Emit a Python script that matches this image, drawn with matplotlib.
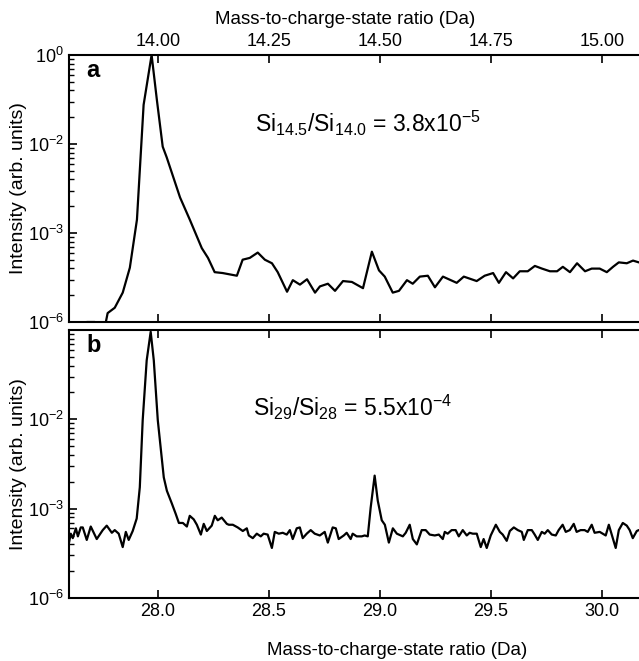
import matplotlib.pyplot as plt
import matplotlib.ticker as mticker
import numpy as np

plt.rcParams['font.family'] = ['Liberation Sans', 'DejaVu Sans']
plt.rcParams['mathtext.fontset'] = 'custom'
plt.rcParams['mathtext.rm'] = 'Liberation Sans'
plt.rcParams['mathtext.it'] = 'Liberation Sans:italic'
plt.rcParams['mathtext.bf'] = 'Liberation Sans:bold'

# panel a: mass-to-charge (Da) and log10 of intensity (as drawn on the axis)
mass_a = [13.820, 13.840, 13.858, 13.869, 13.883, 13.887, 13.903, 13.921, 13.937, 13.953,
          13.968, 13.986, 13.998, 14.011, 14.020, 14.032, 14.050, 14.072, 14.099, 14.113,
          14.128, 14.146, 14.178, 14.191, 14.207, 14.225, 14.241, 14.257, 14.270, 14.291,
          14.304, 14.320, 14.336, 14.354, 14.365, 14.383, 14.399, 14.417, 14.437, 14.462,
          14.482, 14.498, 14.511, 14.529, 14.543, 14.561, 14.574, 14.590, 14.608, 14.624,
          14.642, 14.673, 14.689, 14.718, 14.736, 14.755, 14.768, 14.784, 14.800, 14.815,
          14.833, 14.849, 14.865, 14.883, 14.899, 14.912, 14.928, 14.944, 14.962, 14.977,
          14.995, 15.011, 15.025, 15.038, 15.056, 15.070, 15.083, 15.097]
logi_a = [-3.10, -3.00, -3.00, -3.10, -3.00, -2.90, -2.84, -2.67, -2.39, -1.85,
          -0.56, 0.00, -0.51, -1.03, -1.15, -1.33, -1.60, -1.85, -2.17, -2.28,
          -2.44, -2.45, -2.48, -2.30, -2.28, -2.22, -2.30, -2.34, -2.44, -2.66,
          -2.53, -2.58, -2.52, -2.67, -2.60, -2.57, -2.65, -2.54, -2.55, -2.62,
          -2.21, -2.42, -2.49, -2.67, -2.65, -2.53, -2.57, -2.49, -2.48, -2.61,
          -2.49, -2.56, -2.49, -2.54, -2.48, -2.45, -2.56, -2.44, -2.51, -2.43,
          -2.43, -2.37, -2.40, -2.43, -2.43, -2.38, -2.44, -2.34, -2.43, -2.40,
          -2.40, -2.44, -2.38, -2.33, -2.34, -2.31, -2.33, -2.32]

# panel b
mass_b = [27.600, 27.608, 27.617, 27.631, 27.640, 27.653, 27.662, 27.680, 27.698, 27.725,
          27.752, 27.770, 27.793, 27.806, 27.824, 27.842, 27.856, 27.869, 27.887, 27.905,
          27.919, 27.932, 27.950, 27.968, 27.982, 28.000, 28.027, 28.041, 28.063, 28.081,
          28.095, 28.113, 28.131, 28.144, 28.162, 28.176, 28.194, 28.207, 28.221, 28.243,
          28.257, 28.270, 28.288, 28.311, 28.320, 28.338, 28.360, 28.383, 28.401, 28.410,
          28.428, 28.446, 28.464, 28.477, 28.495, 28.514, 28.527, 28.545, 28.563, 28.581,
          28.595, 28.608, 28.626, 28.640, 28.653, 28.671, 28.689, 28.707, 28.730, 28.752,
          28.766, 28.788, 28.802, 28.815, 28.838, 28.851, 28.869, 28.878, 28.896, 28.919,
          28.932, 28.946, 28.959, 28.977, 28.991, 29.009, 29.023, 29.041, 29.059, 29.077,
          29.104, 29.117, 29.135, 29.149, 29.167, 29.189, 29.207, 29.225, 29.248, 29.266,
          29.284, 29.293, 29.306, 29.324, 29.342, 29.356, 29.374, 29.392, 29.405, 29.419,
          29.437, 29.455, 29.468, 29.482, 29.500, 29.523, 29.541, 29.554, 29.572, 29.586,
          29.604, 29.622, 29.640, 29.649, 29.667, 29.685, 29.698, 29.712, 29.730, 29.743,
          29.757, 29.775, 29.793, 29.806, 29.824, 29.838, 29.856, 29.874, 29.887, 29.905,
          29.923, 29.937, 29.955, 29.968, 29.991, 30.005, 30.018, 30.032, 30.050, 30.063,
          30.077, 30.095, 30.113, 30.126, 30.140, 30.158, 30.167, 30.195]
logi_b = [-2.38, -2.28, -2.33, -2.22, -2.31, -2.21, -2.21, -2.35, -2.20, -2.34,
          -2.24, -2.19, -2.27, -2.24, -2.28, -2.43, -2.26, -2.35, -2.25, -2.11,
          -1.76, -1.01, -0.34, -0.02, -0.34, -1.01, -1.65, -1.80, -1.94, -2.06,
          -2.16, -2.16, -2.20, -2.08, -2.12, -2.18, -2.29, -2.17, -2.25, -2.19,
          -2.08, -2.13, -2.10, -2.17, -2.18, -2.18, -2.21, -2.25, -2.22, -2.30,
          -2.33, -2.28, -2.31, -2.28, -2.29, -2.44, -2.26, -2.28, -2.27, -2.29,
          -2.24, -2.34, -2.22, -2.21, -2.33, -2.28, -2.24, -2.28, -2.30, -2.26,
          -2.38, -2.21, -2.22, -2.34, -2.30, -2.27, -2.34, -2.28, -2.31, -2.31,
          -2.30, -2.31, -1.99, -1.63, -1.91, -2.13, -2.18, -2.38, -2.22, -2.28,
          -2.31, -2.27, -2.18, -2.34, -2.40, -2.24, -2.24, -2.29, -2.30, -2.29,
          -2.34, -2.26, -2.28, -2.24, -2.24, -2.31, -2.24, -2.30, -2.27, -2.28,
          -2.28, -2.43, -2.34, -2.44, -2.30, -2.18, -2.26, -2.29, -2.36, -2.25,
          -2.21, -2.24, -2.26, -2.35, -2.24, -2.24, -2.29, -2.35, -2.26, -2.28,
          -2.24, -2.29, -2.30, -2.24, -2.18, -2.26, -2.24, -2.17, -2.26, -2.24,
          -2.24, -2.26, -2.18, -2.27, -2.26, -2.28, -2.30, -2.18, -2.33, -2.44,
          -2.24, -2.16, -2.19, -2.24, -2.33, -2.25, -2.24, -2.25]

xticks_a = [14.00, 14.25, 14.50, 14.75, 15.00]
xticks_b = [28.0, 28.5, 29.0, 29.5, 30.0]
yticks = [1, 1e-1, 1e-2, 1e-3]
ylabels_a = ['$10^{0}$', '$10^{-2}$', '$10^{-3}$', '$10^{-6}$']
ylabels_b = ['', '$10^{-2}$', '$10^{-3}$', '$10^{-6}$']

W, H = 639, 661
fig = plt.figure(figsize=(W / 100, H / 100), dpi=100)
left, right = 69, 645
ax_a = fig.add_axes([left / W, 1 - 322 / H, (right - left) / W, 267 / H])
ax_b = fig.add_axes([left / W, 1 - 598 / H, (right - left) / W, 268 / H])

for ax, m, li, xt, yl in [(ax_a, mass_a, logi_a, xticks_a, ylabels_a),
                          (ax_b, mass_b, logi_b, xticks_b, ylabels_b)]:
    ax.plot(m, 10 ** np.array(li), color='black', lw=1.6)
    ax.set_yscale('log')
    ax.set_ylim(1e-3, 1)
    ax.set_xlim(m[0] if ax is ax_b else 13.80, m[-1])
    ax.set_xticks(xt)
    ax.set_yticks(yticks)
    ax.set_yticklabels(yl)
    ax.yaxis.set_minor_locator(mticker.LogLocator(base=10, subs=np.arange(2, 10), numticks=20))
    ax.yaxis.set_minor_formatter(mticker.NullFormatter())
    ax.tick_params(axis='both', which='both', direction='in', labelsize=13,
                   top=True, bottom=True, right=False, width=1.2)
    ax.tick_params(axis='both', which='major', length=6)
    ax.tick_params(axis='y', which='minor', length=3.5, width=1)
    for s in ax.spines.values():
        s.set_linewidth(1.5)
    ax.set_ylabel('Intensity (arb. units)', fontsize=14, labelpad=1)

ax_a.tick_params(labeltop=True, labelbottom=False)
ax_a.xaxis.set_major_formatter(mticker.FormatStrFormatter('%.2f'))
ax_a.xaxis.set_label_position('top')
ax_a.set_xlabel('Mass-to-charge-state ratio (Da)', fontsize=13.5)
ax_a.xaxis.set_label_coords(0.479, 1.115)
ax_b.xaxis.set_major_formatter(mticker.FormatStrFormatter('%.1f'))
ax_b.set_xlabel('Mass-to-charge-state ratio (Da)', fontsize=13.5)
ax_b.xaxis.set_label_coords(0.57, -0.165)

ax_a.text(0.03, 0.985, 'a', transform=ax_a.transAxes, fontsize=17,
          fontweight='bold', va='top')
ax_b.text(0.03, 0.985, 'b', transform=ax_b.transAxes, fontsize=17,
          fontweight='bold', va='top')
ax_a.text(0.323, 0.71, r'Si$_{14.5}$/Si$_{14.0}$ = 3.8x10$^{-5}$',
          transform=ax_a.transAxes, fontsize=16.5)
ax_b.text(0.32, 0.68, r'Si$_{29}$/Si$_{28}$ = 5.5x10$^{-4}$',
          transform=ax_b.transAxes, fontsize=16.5)

fig.savefig('out.png', dpi=100)
